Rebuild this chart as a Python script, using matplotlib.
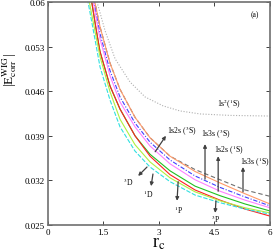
import matplotlib; matplotlib.use("Agg")
import matplotlib.pyplot as plt
import numpy as np

plt.rcParams["font.family"] = ["Liberation Serif", "DejaVu Serif"]
plt.rcParams["mathtext.fontset"] = "stix"

# r_c grid and |E_corr|, one list per state
r_cyan = [1.034, 1.088, 1.223, 1.412, 1.682, 1.951, 2.356, 2.761, 3.301, 3.976, 4.651, 5.326, 6.0]
e_cyan = [0.0619, 0.0600, 0.0558, 0.0498, 0.0446, 0.0404, 0.0366, 0.0341, 0.0318, 0.0297, 0.0285, 0.0275, 0.0267]
r_yg = [1.061, 1.123, 1.263, 1.412, 1.682, 1.951, 2.356, 2.761, 3.301, 3.976, 4.651, 5.326, 6.0]
e_yg = [0.0619, 0.0600, 0.0558, 0.0514, 0.0459, 0.0416, 0.0376, 0.0349, 0.0324, 0.0302, 0.0288, 0.0277, 0.0269]
r_green = [1.128, 1.188, 1.304, 1.412, 1.682, 1.951, 2.356, 2.761, 3.301, 3.976, 4.651, 5.326, 6.0]
e_green = [0.0619, 0.0600, 0.0558, 0.0522, 0.0468, 0.0432, 0.0390, 0.0361, 0.0335, 0.0311, 0.0296, 0.0283, 0.0272]
r_red = [1.128, 1.188, 1.304, 1.412, 1.682, 1.951, 2.356, 2.761, 3.301, 3.976, 4.651, 5.326, 6.0]
e_red = [0.0619, 0.0600, 0.0558, 0.0522, 0.0468, 0.0432, 0.0390, 0.0358, 0.0329, 0.0305, 0.0289, 0.0275, 0.0264]
r_mag = [1.169, 1.231, 1.358, 1.412, 1.682, 1.951, 2.356, 2.761, 3.301, 3.976, 4.651, 5.326, 6.0]
e_mag = [0.0619, 0.0600, 0.0558, 0.0542, 0.0484, 0.0443, 0.0404, 0.0374, 0.0346, 0.0321, 0.0303, 0.0289, 0.0277]
r_blue = [1.182, 1.244, 1.385, 1.412, 1.682, 1.951, 2.356, 2.761, 3.301, 3.976, 4.651, 5.326, 6.0]
e_blue = [0.0619, 0.0600, 0.0558, 0.0550, 0.0492, 0.0451, 0.0410, 0.0380, 0.0352, 0.0327, 0.0309, 0.0294, 0.0280]
r_orange = [1.209, 1.271, 1.412, 1.682, 1.951, 2.356, 2.761, 3.301, 3.976, 4.651, 5.326, 6.0]
e_orange = [0.0619, 0.0600, 0.0561, 0.0504, 0.0463, 0.0419, 0.0387, 0.0358, 0.0334, 0.0316, 0.0299, 0.0283]
r_dash = [1.209, 1.271, 1.412, 1.682, 1.951, 2.356, 2.761, 3.301, 3.976, 4.651, 5.326, 6.0]
e_dash = [0.0619, 0.0600, 0.0561, 0.0504, 0.0463, 0.0419, 0.0387, 0.0358, 0.0337, 0.0321, 0.0305, 0.0295]
r_gs = [1.277, 1.331, 1.547, 1.817, 2.220, 2.627, 3.112, 3.571, 4.111, 4.921, 6.0]
e_gs = [0.0619, 0.0600, 0.0555, 0.0511, 0.04745, 0.0451, 0.0437, 0.0429, 0.04243, 0.0422, 0.0421]

xticks = [0, 1.5, 3, 4.5, 6]
yticks = [0.025, 0.032, 0.039, 0.046, 0.053, 0.06]
ylabels = ["0.025", "0.032", "0.039", "0.046", "0.053", "0.06"]

# (label, text pos, arrow tail on curve, arrow head at label)
notes = [("1s2s ($^3$S)", (3.62, 0.0398), (2.90, 0.0365), (3.19, 0.0390)),
         ("1s3s ($^3$S)", (4.54, 0.0393), (4.245, 0.0322), (4.245, 0.0377)),
         ("1s2s ($^1$S)", (4.89, 0.0369), (4.60, 0.0303), (4.60, 0.0358)),
         ("1s3s ($^1$S)", (5.60, 0.0349), (5.27, 0.0302), (5.27, 0.0341)),
         ("$^3$D", (2.17, 0.0319), (2.68, 0.0341), (2.44, 0.0327)),
         ("$^1$D", (2.71, 0.0299), (2.84, 0.0330), (2.79, 0.0311)),
         ("$^1$P", (3.54, 0.0274), (3.52, 0.0318), (3.49, 0.0288)),
         ("$^3$P", (4.54, 0.0261), (4.54, 0.0288), (4.52, 0.0269))]

fig = plt.figure(figsize=(2.75, 2.53), dpi=100)
ax = fig.add_axes([0.1735, 0.1067, 0.8085, 0.8815])

ax.plot(r_gs, e_gs, color="#b0b0b0", lw=0.8, ls=(0, (1, 1.5)))
ax.plot(r_dash, e_dash, color="#707070", lw=0.8, ls=(0, (4, 2.5)))
ax.plot(r_orange, e_orange, color="#ff9a6a", lw=0.8)
ax.plot(r_blue, e_blue, color="#4040ff", lw=0.8, ls=(0, (4, 1.5, 1, 1.5)))
ax.plot(r_mag, e_mag, color="#ff80ff", lw=0.8)
ax.plot(r_green, e_green, color="#20c020", lw=0.8)
ax.plot(r_red, e_red, color="#ff2020", lw=0.8)
ax.plot(r_yg, e_yg, color="#b0f040", lw=0.8)
ax.plot(r_cyan, e_cyan, color="#30e0e0", lw=0.8, ls=(0, (4, 1.5)))

for txt, tpos, tail, head in notes:
    ax.annotate("", xy=head, xytext=tail,
                arrowprops=dict(arrowstyle="-|>", color="#404040", lw=0.9, mutation_scale=5,
                                shrinkA=0, shrinkB=0))
    ax.text(tpos[0], tpos[1], txt, fontsize=5.5, ha="center", va="center")
ax.text(4.89, 0.0440, "1s$^2$($^1$S)", fontsize=5.5, ha="center", va="center")
ax.text(5.60, 0.0581, "(a)", fontsize=5.5, ha="center", va="center")

ax.set_xlim(0, 6)
ax.set_ylim(0.025, 0.06)
ax.set_xticks(xticks)
ax.set_xticklabels(["0", "1.5", "3", "4.5", "6"])
ax.set_yticks(yticks)
ax.set_yticklabels(ylabels)
ax.tick_params(direction="in", length=3, width=0.7, labelsize=6.5, top=True, right=True, pad=2, color="#404040")
for s in ax.spines.values():
    s.set_color("#707070"); s.set_linewidth(1.2)
ax.set_xlabel("r$_\\mathrm{c}$", fontsize=13, labelpad=-1)
ax.set_ylabel("|E$_\\mathrm{corr}^\\mathrm{WIG}$|", fontsize=9.5, labelpad=1)
ax.yaxis.set_label_coords(-0.13, 0.70)

fig.savefig("out.png", dpi=100)
